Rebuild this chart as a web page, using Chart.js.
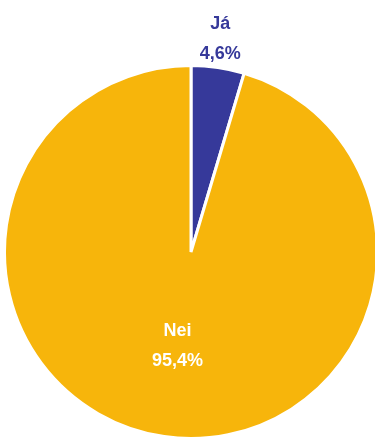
<!DOCTYPE html>
<html>
<head>
<meta charset="utf-8">
<style>
html, body { margin: 0; padding: 0; background: #fff; overflow: hidden; }
#wrap { width: 375px; height: 437px; overflow: hidden; position: relative; }
#myChart { position: absolute; left: 0; top: 0; }
</style>
<script src="https://cdn.jsdelivr.net/npm/chart.js@4"></script>
</head>
<body>
<div id="wrap"><canvas id="myChart" width="380" height="441"></canvas></div>
<script>
var categories = ['Já', 'Nei'];
var values = [4.6, 95.4];
var valueLabels = ['4,6%', '95,4%'];
var colors = ['#36399a', '#f7b50b'];

// draws the two-line labels: Já outside the pie, Nei inside
var labelPlugin = {
  id: 'sliceLabels',
  afterDatasetsDraw: function (chart) {
    var ctx = chart.ctx;
    var arcs = chart.getDatasetMeta(0).data;
    ctx.save();
    ctx.font = 'bold 18px "Liberation Sans", Arial, sans-serif';
    ctx.textAlign = 'center';
    ctx.textBaseline = 'alphabetic';
    arcs.forEach(function (arc, i) {
      var p = arc.getProps(['x', 'y', 'startAngle', 'endAngle', 'outerRadius']);
      var mid = (p.startAngle + p.endAngle) / 2;
      var r = i === 0 ? p.outerRadius + 31 : p.outerRadius * 0.5;
      var x = p.x + Math.cos(mid) * r;
      var y = p.y + Math.sin(mid) * r;
      ctx.fillStyle = i === 0 ? colors[0] : '#ffffff';
      ctx.fillText(categories[i], x - (i === 0 ? 2 : 0), y - 8);
      ctx.fillText(valueLabels[i], x - (i === 0 ? 2 : 0), y + 22);
    });
    ctx.restore();
  }
};

var ctx = document.getElementById('myChart');
var myChart = new Chart(ctx, {
  type: 'pie',
  data: {
    labels: categories,
    datasets: [{
      data: values,
      backgroundColor: colors,
      borderColor: '#ffffff',
      borderWidth: 3
    }]
  },
  options: {
    responsive: false,
    animation: false,
    layout: { padding: { top: 64, bottom: 1, left: 3, right: 1 } },
    plugins: {
      legend: { display: false },
      tooltip: { enabled: false }
    }
  },
  plugins: [labelPlugin]
});
</script>
</body>
</html>
